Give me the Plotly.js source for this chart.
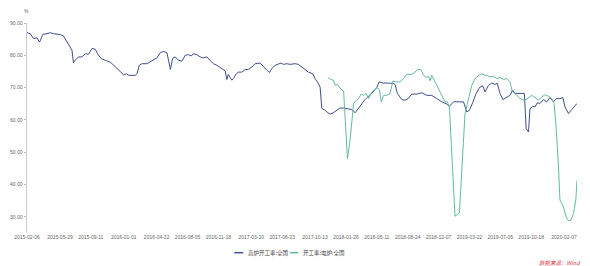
<!DOCTYPE html>
<html>
<head>
<meta charset="utf-8">
<script src="https://cdn.plot.ly/plotly-3.0.1.min.js"></script>
<style>html,body{margin:0;padding:0;background:#fff;}#chart{width:590px;height:266px;}</style>
</head>
<body>
<div id="chart"></div>
<script>
// 高炉开工率:全国
const blastDates = [
'2015-02-06','2015-02-17','2015-02-28','2015-03-12','2015-03-21','2015-04-01','2015-04-15','2015-04-26','2015-05-07','2015-05-30','2015-06-10','2015-06-22','2015-07-03','2015-07-09','2015-07-14','2015-07-20','2015-07-31','2015-08-12','2015-08-23','2015-09-03','2015-09-15','2015-09-26','2015-10-04','2015-10-16','2015-10-30','2015-11-16','2015-12-03','2015-12-20','2015-12-31',
'2016-01-12','2016-01-17','2016-02-09','2016-02-15','2016-02-23','2016-03-03','2016-03-20','2016-03-31','2016-04-11','2016-04-23','2016-05-04','2016-05-15','2016-05-27','2016-06-01','2016-06-08','2016-06-15','2016-06-24','2016-07-05','2016-07-17','2016-07-28','2016-08-08','2016-08-18','2016-08-25','2016-09-06','2016-09-17','2016-09-28','2016-10-10','2016-10-21','2016-11-01','2016-11-13','2016-11-30','2016-12-11','2016-12-17','2016-12-22','2016-12-28',
'2017-01-03','2017-01-08','2017-01-18','2017-01-25','2017-02-06','2017-02-17','2017-02-28','2017-03-12','2017-03-23','2017-04-09','2017-04-20','2017-05-02','2017-05-11','2017-05-19','2017-05-30','2017-06-10','2017-06-19','2017-06-27','2017-07-09','2017-07-20','2017-08-06','2017-08-17','2017-08-29','2017-09-09','2017-09-20','2017-10-05','2017-10-13','2017-10-24','2017-10-30','2017-11-05','2017-11-13','2017-11-22','2017-12-03','2017-12-14','2017-12-26',
'2018-01-06','2018-01-17','2018-02-03','2018-02-15','2018-02-26','2018-03-09','2018-03-21','2018-04-01','2018-04-12','2018-04-24','2018-05-05','2018-05-11','2018-05-19','2018-06-02','2018-06-19','2018-07-06','2018-07-12','2018-07-20','2018-08-04','2018-08-15','2018-08-26','2018-09-07','2018-09-24','2018-10-11','2018-10-28','2018-11-14','2018-12-01','2018-12-18',
'2019-01-04','2019-01-13','2019-01-27','2019-02-13','2019-03-02','2019-03-13','2019-03-22','2019-04-02','2019-04-14','2019-04-25','2019-05-06','2019-05-14','2019-05-26','2019-06-06','2019-06-17','2019-06-25','2019-07-04','2019-07-14','2019-07-27','2019-08-07','2019-08-16','2019-08-24','2019-09-10','2019-09-25','2019-10-01','2019-10-09','2019-10-14','2019-10-24','2019-10-31','2019-11-08','2019-11-17','2019-11-29','2019-12-10','2019-12-21',
'2020-01-02','2020-01-11','2020-01-24','2020-02-03','2020-02-10','2020-02-22','2020-03-04','2020-03-15','2020-03-22'
];
const blastValues = [
87.0,86.7,85.2,85.4,84.1,86.5,86.7,87.0,86.7,86.4,86.0,84.1,82.1,81.6,77.7,78.5,79.5,79.5,80.5,80.3,82.1,81.9,80.5,79.0,78.5,77.9,76.5,75.1,74.0,
74.3,73.8,73.8,74.3,76.9,77.4,77.4,77.9,78.5,79.2,80.8,81.2,80.8,79.0,75.6,79.0,79.5,78.5,78.2,80.0,80.2,79.8,80.5,80.2,79.5,79.2,79.5,78.4,77.4,76.9,75.9,75.2,72.5,74.1,73.1,
72.3,72.8,74.3,74.8,74.8,75.6,75.6,76.4,77.4,77.6,76.4,75.4,74.7,75.9,76.9,77.4,77.6,77.2,77.4,77.2,77.4,77.2,76.4,75.4,74.8,74.3,72.8,71.3,70.2,63.5,63.2,62.5,61.8,62.2,63.0,
63.7,63.7,63.5,63.2,62.2,63.5,65.1,66.3,67.3,68.2,69.4,70.0,71.8,71.4,71.4,71.3,71.0,68.2,66.3,66.1,66.6,68.0,68.0,68.4,67.6,67.6,66.6,65.6,
64.9,64.2,65.6,65.6,65.6,62.5,63.0,65.3,68.2,70.0,70.6,68.7,70.7,71.4,71.0,71.3,68.2,66.3,66.9,67.6,69.2,68.2,68.2,68.2,57.3,56.3,63.5,64.2,64.0,65.3,65.1,66.3,65.6,66.9,
65.6,66.6,66.6,66.9,64.0,62.0,63.2,64.2,65.1
];

// 开工率:电炉:全国
const eafDates = [
'2017-11-27','2017-12-06','2017-12-14','2017-12-20','2017-12-28',
'2018-01-04','2018-01-12','2018-01-18','2018-01-31','2018-02-09','2018-02-21','2018-03-02','2018-03-10','2018-03-19','2018-03-27','2018-04-05','2018-04-13','2018-04-21','2018-04-30','2018-05-11','2018-05-20','2018-05-26','2018-06-03','2018-06-14','2018-06-25','2018-07-05','2018-07-12','2018-07-29','2018-08-10','2018-08-21','2018-09-04','2018-09-15','2018-09-26','2018-10-08','2018-10-17','2018-10-26','2018-11-03','2018-11-08','2018-11-14','2018-11-25','2018-12-07','2018-12-18','2018-12-29',
'2019-01-06','2019-01-13','2019-02-01','2019-02-07','2019-02-16','2019-03-07','2019-03-19','2019-03-30','2019-04-10','2019-04-22','2019-05-03','2019-05-14','2019-05-20','2019-05-31','2019-06-12','2019-06-23','2019-07-04','2019-07-16','2019-07-27','2019-08-07','2019-08-15','2019-08-24','2019-09-05','2019-09-16','2019-09-27','2019-10-09','2019-10-20','2019-10-31','2019-11-12','2019-11-23','2019-12-04','2019-12-16','2019-12-27',
'2020-01-04','2020-01-11','2020-01-19','2020-01-24','2020-02-05','2020-02-14','2020-02-22','2020-03-01','2020-03-10','2020-03-18','2020-03-22'
];
const eafValues = [
73.1,72.5,72.3,70.7,71.0,70.2,69.2,69.0,48.0,53.7,
65.1,66.1,66.6,68.0,67.6,68.2,66.6,68.2,69.2,70.0,
69.4,65.6,67.6,67.6,68.2,72.1,71.8,71.8,72.8,74.1,
74.1,74.5,75.6,75.6,73.8,73.1,73.5,72.1,73.8,71.8,
69.7,67.6,65.6,65.6,64.0,30.2,30.5,31.2,62.0,67.1,
70.7,72.8,73.8,74.3,73.8,73.8,73.3,73.5,72.8,73.1,
72.5,72.8,71.8,68.7,68.2,67.1,66.3,66.1,66.9,67.6,
66.9,66.1,67.1,67.8,67.3,66.6,65.1,57.8,45.5,35.2,
33.1,30.0,28.8,29.0,31.0,35.2,41.3
];

const seriesNames = ['高炉开工率:全国', '开工率:电炉:全国'];
const seriesColors = ['#414e8f', '#63baa4'];
const tickDates = ['2015-02-06','2015-05-29','2015-09-11','2016-01-01','2016-04-22','2016-08-05','2016-11-18','2017-03-10','2017-06-23','2017-10-13','2018-01-26','2018-05-11','2018-08-24','2018-12-07','2019-03-22','2019-07-05','2019-10-18','2020-02-07'];
const yTicks = [30, 40, 50, 60, 70, 80, 90];
const unitLabel = '%';
const sourceLabel = '数据来源：Wind';

const numFont = 'Liberation Sans, Arial, Noto Sans CJK SC, sans-serif';
const cjkFont = 'Noto Sans CJK SC, Liberation Sans, sans-serif';

const traces = [
  {x: blastDates, y: blastValues, name: seriesNames[0], type: 'scatter', mode: 'lines',
   line: {color: seriesColors[0], width: 1}},
  {x: eafDates, y: eafValues, name: seriesNames[1], type: 'scatter', mode: 'lines',
   line: {color: seriesColors[1], width: 1}}
];

// plot area geometry in px for legend placement
const L = 27, R = 13, T = 23, B = 33, W = 590, H = 266;
const pw = W - L - R, ph = H - T - B;
const px = v => (v - L) / pw;
const py = v => (T + ph - v) / ph;

const legendY = 252.7;
const layout = {
  width: W, height: H,
  margin: {l: L, r: R, t: T, b: B, pad: 0},
  paper_bgcolor: '#fff', plot_bgcolor: '#fff',
  showlegend: false,
  xaxis: {
    type: 'date',
    range: [blastDates[0], blastDates[blastDates.length - 1]],
    tickmode: 'array', tickvals: tickDates, ticktext: tickDates,
    showgrid: false, zeroline: false, showline: false, ticks: '',
    tickfont: {family: numFont, size: 5, color: '#666'}
  },
  yaxis: {
    range: [25, 90],
    tickmode: 'array', tickvals: yTicks, tickformat: '.2f',
    showgrid: false, zeroline: false,
    showline: true, linecolor: '#cccccc', linewidth: 1.5,
    ticks: 'outside', ticklen: 2, tickwidth: 1, tickcolor: '#bbbbbb',
    tickfont: {family: numFont, size: 5, color: '#666'}
  },
  shapes: [
    {type: 'line', xref: 'paper', yref: 'paper', x0: px(234.3), x1: px(243.3), y0: py(legendY), y1: py(legendY),
     line: {color: seriesColors[0], width: 1.5}},
    {type: 'line', xref: 'paper', yref: 'paper', x0: px(290), x1: px(298.3), y0: py(legendY), y1: py(legendY),
     line: {color: seriesColors[1], width: 1.5}}
  ],
  annotations: [
    {text: unitLabel, xref: 'paper', yref: 'paper', x: px(26), y: py(11), xanchor: 'center', yanchor: 'middle',
     showarrow: false, font: {family: numFont, size: 5, color: '#666'}},
    {text: seriesNames[0], xref: 'paper', yref: 'paper', x: px(245.5), y: py(legendY), xanchor: 'left', yanchor: 'middle',
     showarrow: false, font: {family: cjkFont, size: 5.5, color: '#444'}},
    {text: seriesNames[1], xref: 'paper', yref: 'paper', x: px(300.5), y: py(legendY), xanchor: 'left', yanchor: 'middle',
     showarrow: false, font: {family: cjkFont, size: 5.5, color: '#444'}},
    {text: '<i>' + sourceLabel + '</i>', xref: 'paper', yref: 'paper', x: px(582), y: py(262.5), xanchor: 'right', yanchor: 'middle',
     showarrow: false, font: {family: cjkFont, size: 5.5, color: '#d9303a'}}
  ]
};

Plotly.newPlot('chart', traces, layout, {displayModeBar: false, staticPlot: true});
</script>
</body>
</html>
